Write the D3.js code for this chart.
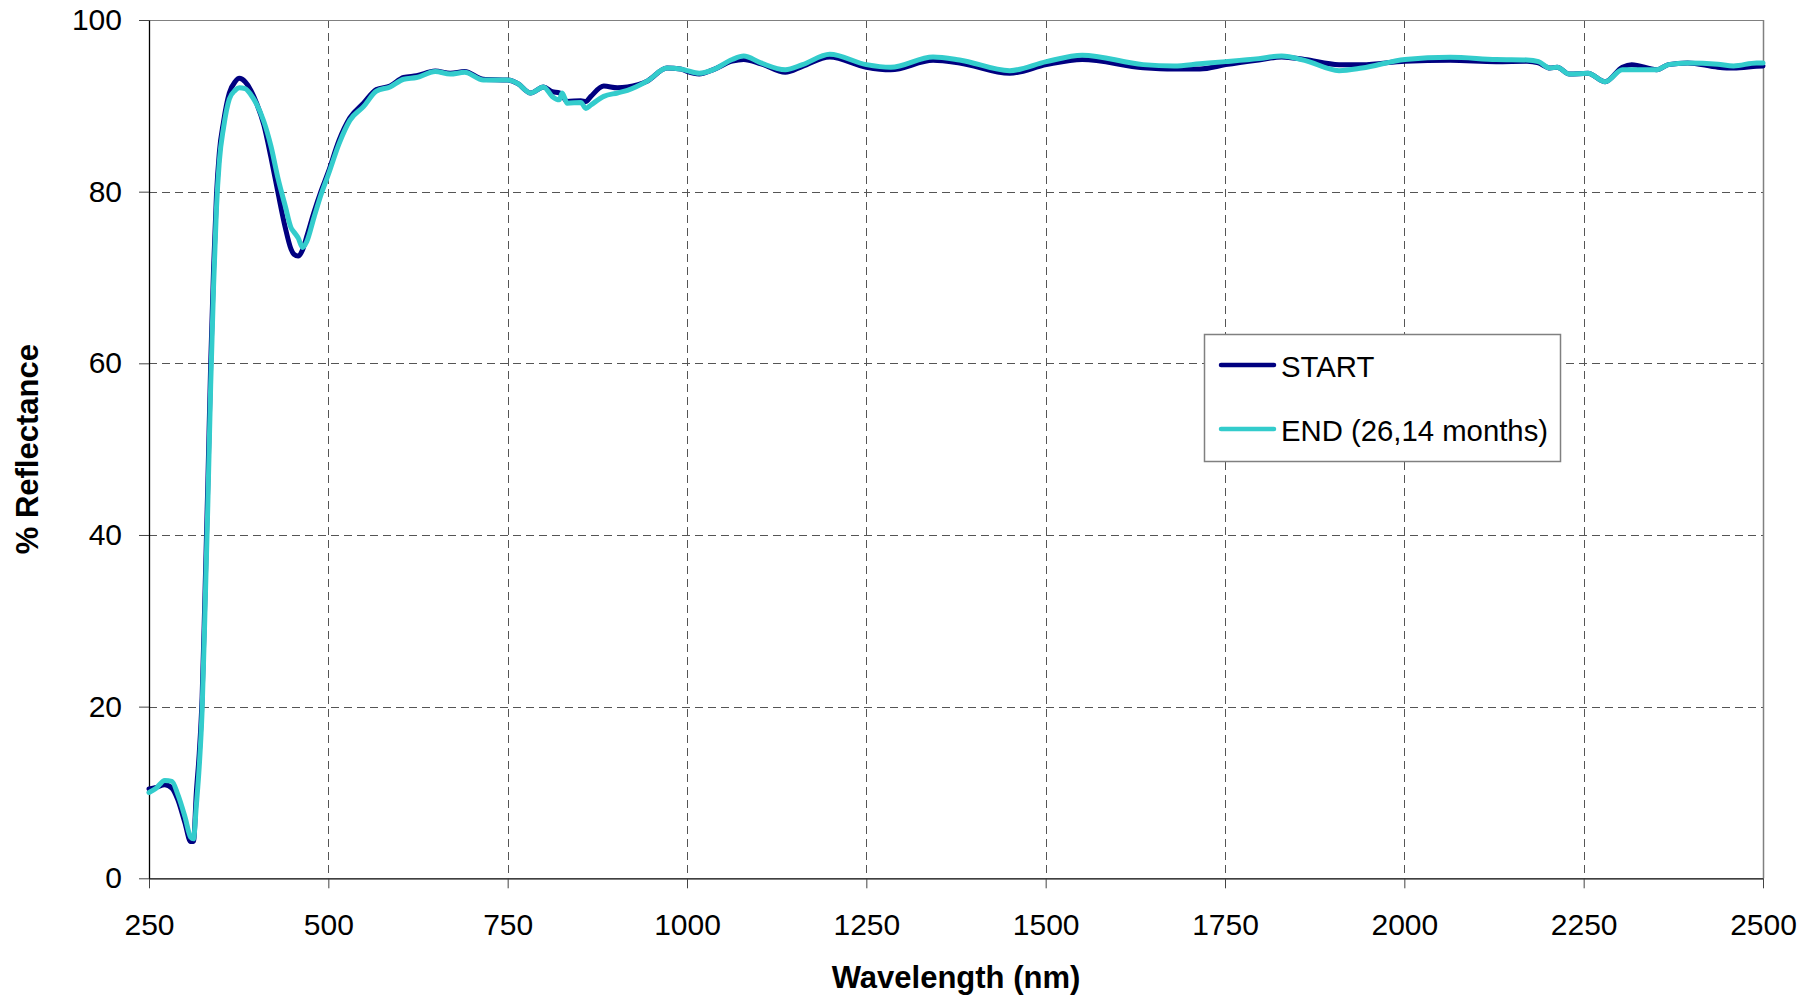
<!DOCTYPE html>
<html>
<head>
<meta charset="utf-8">
<script src="https://cdn.jsdelivr.net/npm/d3@7"></script>
<style>
  html, body { margin: 0; padding: 0; background: #fff; }
  svg { display: block; }
  text { font-family: "Liberation Sans", Arial, sans-serif; fill: #000; }
</style>
</head>
<body>
<svg id="chart" width="1815" height="999"></svg>
<script>
// ---- data ----
const wavelengths = [250,260,272,282,290,300,308,312,316,320,324,328,332,336,340,344,348,354,362,370,376,384,392,400,410,420,430,440,448,452,458,464,470,480,490,500,515,530,549,567,586,605,623,649,670,690,716,750,764,782,800,812,822,826,833,852,859,866,884,903,917,945,972,991,1000,1017,1036,1063,1079,1103,1137,1161,1199,1250,1284,1343,1380,1450,1501,1551,1636,1679,1715,1751,1797,1829,1861,1909,1941,2001,2064,2128,2171,2187,2203,2213,2230,2256,2280,2304,2317,2352,2368,2395,2437,2459,2491,2500];
const startValues = [10.4,10.6,10.9,10.5,9.2,6.5,4.3,4.3,10.0,14.5,21,33,46,60,71,79.5,84.5,88.2,91.5,92.8,93.2,92.8,91.8,90.3,87.8,84,79.8,75.8,73.3,72.7,72.5,73.2,74.8,77.6,80.1,82.3,86,88.6,90.3,91.9,92.3,93.3,93.5,94.05,93.8,94.0,93.1,93.0,92.6,91.5,92.2,91.65,91.5,91.2,90.5,90.6,90.5,91.1,92.3,92.1,92.2,92.9,94.4,94.3,94.0,93.7,94.2,95.2,95.4,94.9,93.9,94.6,95.7,94.5,94.2,95.3,95.0,93.8,94.8,95.4,94.45,94.3,94.3,94.8,95.35,95.7,95.4,94.8,94.8,95.2,95.3,95.15,95.2,95.0,94.4,94.5,93.7,93.8,92.8,94.5,94.8,94.2,94.8,95.0,94.5,94.4,94.6,94.65];
const endValues = [10.0,10.5,11.4,11.3,9.8,7.2,4.8,4.6,8.5,13,19.5,31,43.5,57.5,69,78,83.5,87.5,90.8,91.8,92.1,92.0,91.3,90.2,88.2,85.3,81.5,78.3,75.8,75.3,74.6,73.5,74.2,77,79.7,82,85.6,88.3,89.9,91.7,92.2,93.1,93.3,94.0,93.7,93.9,93.0,93.0,92.6,91.5,92.2,91.1,90.7,91.5,90.3,90.4,89.7,90.1,91.1,91.5,91.8,92.9,94.4,94.3,94.1,93.8,94.2,95.4,95.8,95.0,94.2,94.8,96.0,94.8,94.5,95.7,95.35,94.1,95.15,95.9,94.8,94.65,94.9,95.15,95.5,95.8,95.3,94.1,94.4,95.4,95.65,95.4,95.35,95.15,94.4,94.5,93.7,93.8,92.8,94.2,94.2,94.2,94.8,95.0,94.85,94.65,95.0,95.0];
const seriesNames = ["START", "END (26,14 months)"];
const seriesColors = ["#000080", "#33CCCC"];
const xTicks = [250,500,750,1000,1250,1500,1750,2000,2250,2500];
const yTicks = [0,20,40,60,80,100];
const xTitle = "Wavelength (nm)";
const yTitle = "% Reflectance";

// ---- layout ----
const svg = d3.select("#chart");
const L = 149, R = 1763, T = 20, B = 878.3;
const x = d3.scaleLinear().domain([250, 2500]).range([L, R]);
const y = d3.scaleLinear().domain([0, 100]).range([B, T]);

// gridlines
const grid = svg.append("g").attr("stroke", "#555").attr("stroke-width", 1).attr("stroke-dasharray", "8,5");
grid.selectAll("line.v").data(xTicks.filter(t => t > 250 && t < 2500)).enter().append("line")
  .attr("x1", d => Math.round(x(d)) + 0.5).attr("x2", d => Math.round(x(d)) + 0.5)
  .attr("y1", T).attr("y2", B);
grid.selectAll("line.h").data(yTicks.filter(t => t > 0 && t < 100)).enter().append("line")
  .attr("x1", L).attr("x2", R)
  .attr("y1", d => Math.round(y(d)) + 0.5).attr("y2", d => Math.round(y(d)) + 0.5);

// plot frame (top & right)
svg.append("line").attr("x1", L).attr("x2", R).attr("y1", T + 0.5).attr("y2", T + 0.5).attr("stroke", "#808080");
svg.append("line").attr("x1", R + 0.5).attr("x2", R + 0.5).attr("y1", T).attr("y2", B).attr("stroke", "#808080").attr("stroke-width", 1.5);

// axes
const xAxis = d3.axisBottom(x).tickValues(xTicks).tickSize(10).tickSizeOuter(0).tickPadding(25).tickFormat(d3.format("d"));
const yAxis = d3.axisLeft(y).tickValues(yTicks).tickSize(10).tickSizeOuter(0).tickPadding(17).tickFormat(d3.format("d"));

const gx = svg.append("g").attr("transform", `translate(0,${B})`).call(xAxis);
const gy = svg.append("g").attr("transform", `translate(${L},0)`).call(yAxis);
[gx, gy].forEach(g => {
  g.select(".domain").attr("stroke", "#000").attr("stroke-width", 1.3);
  g.selectAll(".tick line").attr("stroke", "#444");
  g.selectAll(".tick text").attr("font-size", 30).attr("font-family", '"Liberation Sans", Arial, sans-serif').attr("fill", "#000");
});

// series
const line = d3.line().x(d => x(d[0])).y(d => y(d[1])).curve(d3.curveMonotoneX);
const seriesData = [startValues, endValues].map(vals => wavelengths.map((w, i) => [w, vals[i]]));
svg.append("g").selectAll("path").data(seriesData).enter().append("path")
  .attr("d", line)
  .attr("fill", "none")
  .attr("stroke", (d, i) => seriesColors[i])
  .attr("stroke-width", 5)
  .attr("stroke-linejoin", "round")
  .attr("stroke-linecap", "round");

// axis titles
svg.append("text").attr("x", (L + R) / 2).attr("y", 988).attr("text-anchor", "middle")
  .attr("font-size", 31).attr("font-weight", "bold").text(xTitle);
svg.append("text").attr("transform", `translate(38,${(T + B) / 2}) rotate(-90)`).attr("text-anchor", "middle")
  .attr("font-size", 31).attr("font-weight", "bold").text(yTitle);

// legend
const lg = svg.append("g");
lg.append("rect").attr("x", 1204.5).attr("y", 334.5).attr("width", 356).attr("height", 127)
  .attr("fill", "#fff").attr("stroke", "#808080").attr("stroke-width", 1.5);
const legY = [365, 429];
seriesNames.forEach((name, i) => {
  lg.append("line").attr("x1", 1221).attr("x2", 1274).attr("y1", legY[i]).attr("y2", legY[i])
    .attr("stroke", seriesColors[i]).attr("stroke-width", 4.5).attr("stroke-linecap", "round");
  lg.append("text").attr("x", 1281).attr("y", legY[i] + 12).attr("font-size", 29.3).text(name);
});
</script>
</body>
</html>
